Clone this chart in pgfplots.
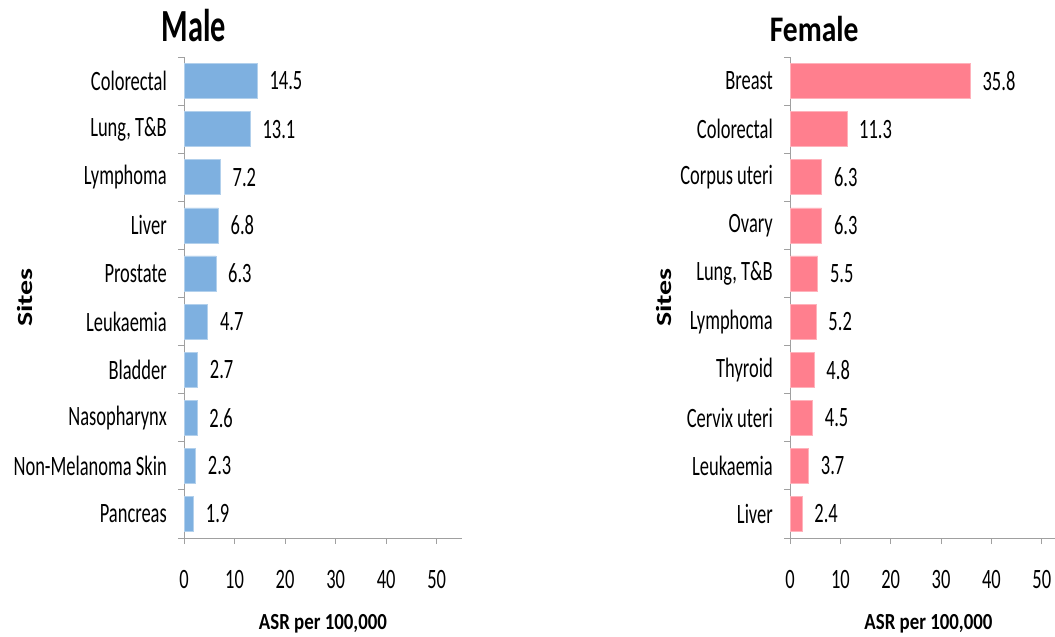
\documentclass[border=0pt]{standalone}
\usepackage{fontspec}
\setmainfont{Carlito}[FakeStretch=0.66]
\newfontfamily\lblfont{Carlito}[FakeStretch=0.82]
\newfontfamily\plainfont{Carlito}
\usepackage{pgfplots}
\pgfplotsset{compat=1.18}
\definecolor{maleblue}{RGB}{126,176,224}
\definecolor{femalepink}{RGB}{255,127,142}
\definecolor{axisgray}{RGB}{160,160,160}

\pgfplotsset{siteaxis/.style={
    xbar, bar width=35pt,
    scale only axis, width=278pt, height=481pt,
    xmin=0, xmax=55, ymin=-0.5, ymax=9.5,
    axis x line*=bottom, axis y line*=left,
    axis line style={-, draw=axisgray, line width=0.8pt},
    xtick={0,10,...,50}, ytick={0,...,9},
    minor ytick={-0.5,0.5,...,9.5},
    tick align=outside, major tick length=6pt, minor tick length=6pt,
    tick style={draw=axisgray, line width=0.8pt},
    major y tick style={draw=none},
    /pgf/number format/assume math mode=true,
    tick label style={font=\fontsize{28}{30}\selectfont, inner sep=0pt},
    yticklabel style={anchor=east, xshift=-11pt},
    xticklabel style={anchor=north, yshift=-26pt},
    xlabel style={font=\lblfont\bfseries\fontsize{23}{25}\selectfont, at={(rel axis cs:0.5,0)}, anchor=center, yshift=-86pt},
    ylabel style={at={(rel axis cs:0,0.5)}, anchor=center, rotate=-90},
    nodes near coords,
    point meta=x,
    nodes near coords style={font=\fontsize{28}{30}\selectfont, anchor=west, inner sep=0pt, xshift=12pt,
      /pgf/number format/.cd, fixed, fixed zerofill, precision=1},
    xlabel={ASR per 100,000},
}}

\begin{document}
\begin{tikzpicture}
\path[use as bounding box] (0,0) rectangle (1055pt,637pt);

% Male
\begin{axis}[siteaxis,
    at={(184pt,99pt)}, anchor=south west,
    yticklabels={Pancreas, Nasopharynx, Bladder, Leukaemia, Prostate, Liver, Lymphoma, {Lung, T\&B}, Colorectal},
    yticklabels={Pancreas, Non-Melanoma Skin, Nasopharynx, Bladder, Leukaemia, Prostate, Liver, Lymphoma, {Lung, T\&B}, Colorectal},
    ylabel={\rotatebox{90}{\scalebox{1}[0.72]{\plainfont\bfseries\fontsize{30}{32}\selectfont Sites}}},
    ylabel style={xshift=-159pt},
    title={\bfseries\fontsize{46}{48}\selectfont Male},
    title style={at={(rel axis cs:0.036,1)}, anchor=base, inner sep=0pt, yshift=9pt},
]
\addplot[fill=maleblue, draw=maleblue!60!white, line width=0.6pt] coordinates {
    (14.5,9) (13.1,8) (7.2,7) (6.8,6) (6.3,5)
    (4.7,4) (2.7,3) (2.6,2) (2.3,1) (1.9,0)
};
\end{axis}

% Female
\begin{axis}[siteaxis,
    at={(790pt,99pt)}, anchor=south west, width=277pt,
    yticklabels={Liver, Leukaemia, Cervix uteri, Thyroid, Lymphoma, {Lung, T\&B}, Ovary, Corpus uteri, Colorectal, Breast},
    ylabel={\rotatebox{90}{\scalebox{1}[0.72]{\plainfont\bfseries\fontsize{30}{32}\selectfont Sites}}},
    ylabel style={xshift=-126pt},
    title={\lblfont\bfseries\fontsize{36}{38}\selectfont Female},
    title style={at={(rel axis cs:0.087,1)}, anchor=base, inner sep=0pt, yshift=9pt},
]
\addplot[fill=femalepink, draw=femalepink!60!white, line width=0.6pt] coordinates {
    (35.8,9) (11.3,8) (6.3,7) (6.3,6) (5.5,5)
    (5.2,4) (4.8,3) (4.5,2) (3.7,1) (2.4,0)
};
\end{axis}
\end{tikzpicture}
\end{document}
